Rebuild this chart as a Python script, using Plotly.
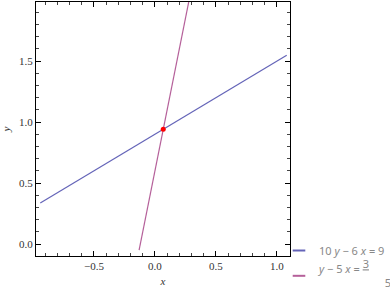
import plotly.graph_objects as go

# line 1: 10 y - 6 x = 9 (endpoints)
blue_x = [-0.94, 1.08]
blue_y = [0.336, 1.548]
# line 2: y - 5 x = 3/5
pink_x = [-0.13, 0.28]
pink_y = [-0.05, 2.0]
# intersection point
pt_x = [0.068]
pt_y = [0.941]

x_ticks = [-0.5, 0.0, 0.5, 1.0]
x_tick_text = ["−0.5", "0.0", "0.5", "1.0"]
y_ticks = [0.0, 0.5, 1.0, 1.5]
y_tick_text = ["0.0", "0.5", "1.0", "1.5"]

blue = "#6464b8"
pink = "#b5609a"
nb = "\u00a0"
name1 = "10 <i>y</i> − 6 <i>x</i> = 9"
name2 = ("<i>y</i> − 5 <i>x</i> = <sup><span style='font-size:11px'><u>3</u></span></sup><br>"
         + nb * 23 + "5")

fig = go.Figure()
fig.add_trace(go.Scatter(x=blue_x, y=blue_y, mode="lines",
                         line=dict(color=blue, width=1.2), showlegend=False))
fig.add_trace(go.Scatter(x=pink_x, y=pink_y, mode="lines",
                         line=dict(color=pink, width=1.2), showlegend=False))
fig.add_trace(go.Scatter(x=pt_x, y=pt_y, mode="markers",
                         marker=dict(color="#ff0000", size=5),
                         showlegend=False))
# legend entries
fig.add_trace(go.Scatter(x=[None], y=[None], mode="markers", name=name1,
                         marker=dict(symbol="line-ew", size=9,
                                     line=dict(color=blue, width=2))))
fig.add_trace(go.Scatter(x=[None], y=[None], mode="markers", name=name2,
                         marker=dict(symbol="line-ew", size=9,
                                     line=dict(color=pink, width=2))))

axis_common = dict(
    showline=True, linecolor="black", linewidth=1, mirror="ticks",
    ticks="inside", ticklen=5, tickcolor="black", tickwidth=1,
    showgrid=False, zeroline=False,
    tickfont=dict(family="Liberation Serif", size=11, color="#333333"),
    minor=dict(ticks="inside", ticklen=3, tickcolor="#444444", dtick=0.1, showgrid=False),
)

fig.update_layout(
    width=390, height=290,
    margin=dict(l=36, r=100, t=2, b=34, autoexpand=False),
    paper_bgcolor="white", plot_bgcolor="white",
    xaxis=dict(range=[-0.975, 1.107], tickvals=x_ticks, ticktext=x_tick_text,
               title=dict(text="<i>x</i>", standoff=6,
                          font=dict(family="Liberation Serif", size=11, color="#333333")),
               **axis_common),
    yaxis=dict(range=[-0.098, 1.984], tickvals=y_ticks, ticktext=y_tick_text,
               title=dict(text="<i>y</i>", standoff=6,
                          font=dict(family="Liberation Serif", size=11, color="#333333")),
               **axis_common),
    legend=dict(x=0.9567, xanchor="left", y=0.0787, yanchor="top",
                font=dict(family="Noto Sans", size=11, color="#888888"),
                itemwidth=30, tracegroupgap=0, bgcolor="rgba(0,0,0,0)"),
    showlegend=True,
)

fig.write_html("out.html")
